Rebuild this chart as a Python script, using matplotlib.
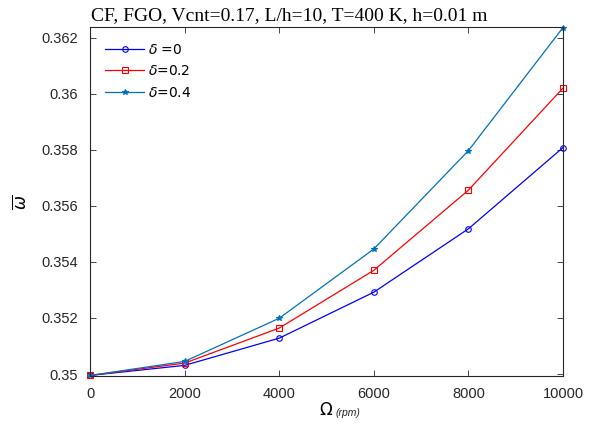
import matplotlib
matplotlib.use("Agg")
import matplotlib.pyplot as plt

# rotor speed (rpm)
speed = [0, 2000, 4000, 6000, 8000, 10000]

# nondimensional frequency for each delta
omega_d0 = [0.34995, 0.35031, 0.35128, 0.35292, 0.35518, 0.35808]
omega_d02 = [0.34995, 0.35039, 0.35164, 0.35370, 0.35656, 0.36020]
omega_d04 = [0.34995, 0.35045, 0.35199, 0.35446, 0.35797, 0.36236]

labels = [r"$\delta$ =0", r"$\delta$=0.2", r"$\delta$=0.4"]

fig = plt.figure(figsize=(5.91, 4.32), dpi=100)
ax = fig.add_axes([0.1523, 0.1296, 0.8003, 0.8072])

ax.plot(speed, omega_d0, color="blue", marker="o", ms=4, mfc="none", mew=0.8,
        lw=0.9, label=labels[0], clip_on=False)
ax.plot(speed, omega_d02, color="red", marker="s", ms=4, mfc="none", mew=0.8,
        lw=0.9, label=labels[1], clip_on=False)
ax.plot(speed, omega_d04, color="#0072bd", marker="*", ms=4, mew=0.8,
        lw=0.9, label=labels[2], clip_on=False)

ax.set_xlim(0, 10000)
ax.set_ylim(0.34993, 0.36237)
ax.set_xticks(speed)
ax.set_yticks([0.35, 0.352, 0.354, 0.356, 0.358, 0.36, 0.362])
ax.set_yticklabels(["0.35", "0.352", "0.354", "0.356", "0.358", "0.36", "0.362"])

ax.tick_params(direction="in", top=True, right=True, length=4, width=0.6,
               labelsize=10.5, colors="0.15")
ax.tick_params(axis="y", pad=9)
ax.tick_params(axis="x", pad=8)
for s in ax.spines.values():
    s.set_color("0.15")
    s.set_linewidth(0.8)
for t in ax.get_xticklabels() + ax.get_yticklabels():
    t.set_fontfamily("Liberation Sans")

ax.set_title("CF, FGO, Vcnt=0.17, L/h=10, T=400 K, h=0.01 m", x=0.421,
             fontfamily="Liberation Serif", fontsize=14, pad=5)
ax.set_ylabel(r"$\overline{\omega}$", fontsize=12, labelpad=8)
ax.set_xlabel(r"$\Omega$", fontsize=12, labelpad=0)
fig.text(0.567, 0.036, "(rpm)", fontsize=7.5, style="italic",
         fontfamily="Liberation Sans", color="0.15")

leg = ax.legend(loc="upper left", frameon=False, fontsize=10,
                handlelength=2.8, borderaxespad=0.7, labelspacing=0.55,
                handletextpad=0.3)

fig.savefig("out.png", dpi=100)
